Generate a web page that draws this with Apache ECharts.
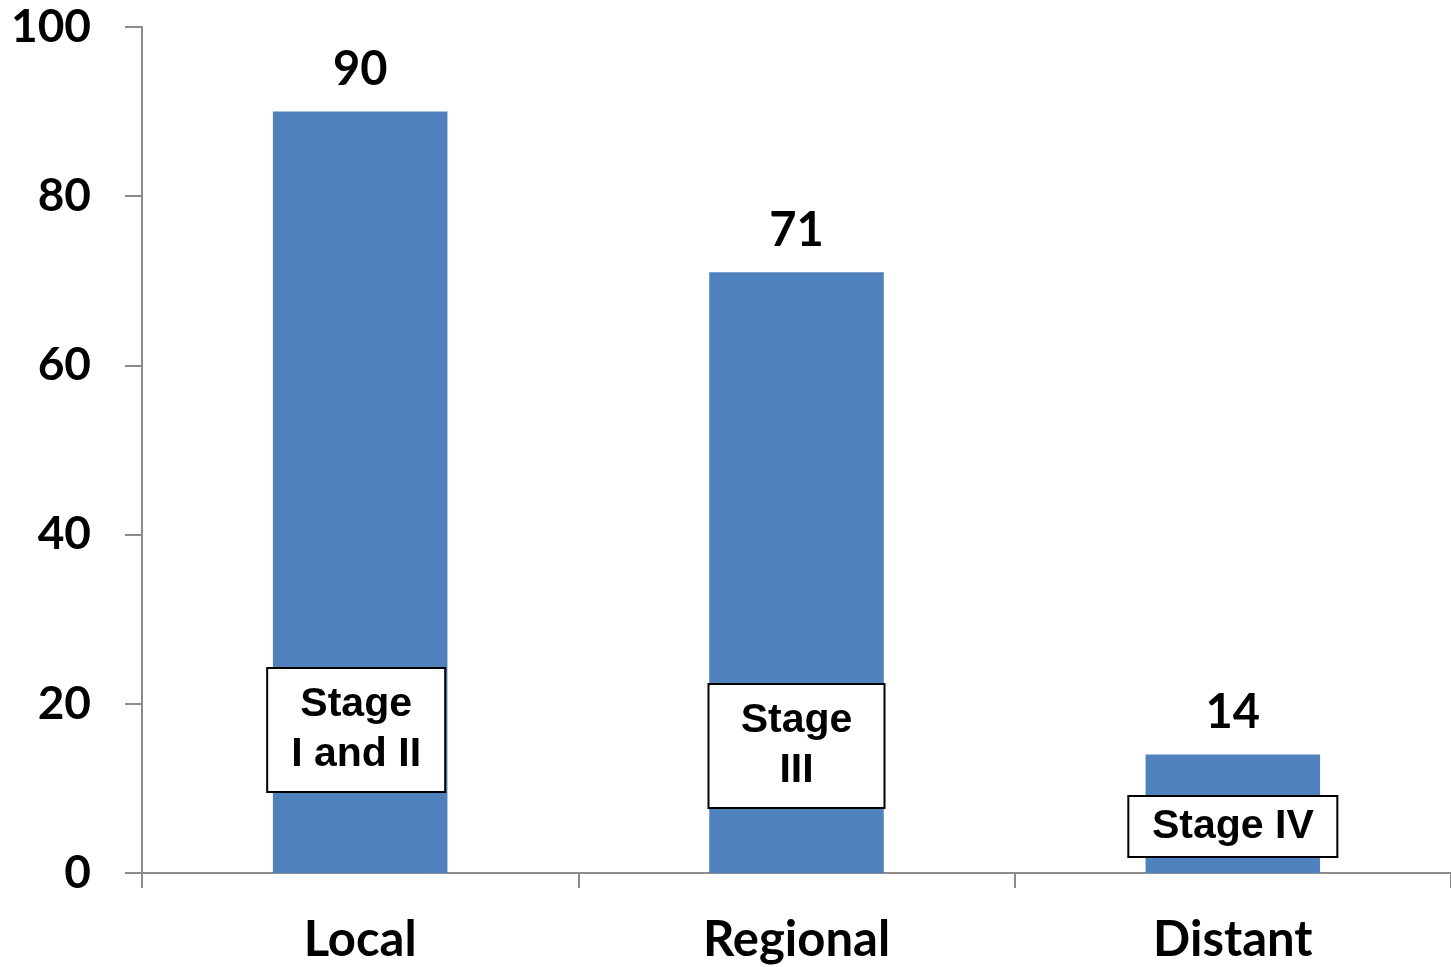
<!DOCTYPE html>
<html>
<head>
<meta charset="utf-8">
<script src="https://cdn.jsdelivr.net/npm/echarts@6/dist/echarts.min.js"></script>
<style>
  html, body { margin: 0; padding: 0; background: #fff; }
  #chart { width: 1451px; height: 967px; }
</style>
</head>
<body>
<div id="chart"></div>
<script>
// Survival by stage at diagnosis
const categories = ['Local', 'Regional', 'Distant'];
const values = [90, 71, 14];
const stageNames = ['Stage\nI and II', 'Stage\nIII', 'Stage IV'];
// height on the value axis where each stage tag is centred
const stageTagAt = [16.9, 15.0, 5.5];
const yTicks = { min: 0, max: 100, interval: 20 };

const axisGray = '#8c8c8c';
const axisFont = 'Lato, "Open Sans", sans-serif';

const tagStyles = [
  { width: 136, padding: [14, 20, 8, 20], offset: [-4, 0] },
  { width: 134, padding: [14, 20, 8, 20], offset: [0, 0] },
  { width: 167, padding: [7, 20, 2, 20], offset: [0, 0] }
];

const chart = echarts.init(document.getElementById('chart'));
chart.setOption({
  animation: false,
  grid: { left: 142, right: 0, top: 27, bottom: 94, containLabel: false },
  xAxis: {
    type: 'category',
    data: categories,
    axisLine: { lineStyle: { color: axisGray, width: 2 } },
    axisTick: { show: true, length: 15, lineStyle: { color: axisGray, width: 2 } },
    axisLabel: {
      margin: 43, color: '#000', fontFamily: axisFont, fontWeight: 'bold', fontSize: 49
    }
  },
  yAxis: {
    type: 'value',
    min: yTicks.min, max: yTicks.max, interval: yTicks.interval,
    splitLine: { show: false },
    axisLine: { show: true, lineStyle: { color: axisGray, width: 2 } },
    axisTick: { show: true, length: 17, lineStyle: { color: axisGray, width: 2 } },
    axisLabel: {
      margin: 51, color: '#000', fontFamily: axisFont, fontWeight: 'bold', fontSize: 46
    }
  },
  series: [
    {
      type: 'bar',
      data: values,
      barWidth: '40%',
      itemStyle: { color: '#4f81bd' },
      label: {
        show: true, position: 'top', distance: 18,
        color: '#000', fontFamily: axisFont, fontWeight: 'bold', fontSize: 47
      },
      z: 2
    },
    {
      type: 'scatter',
      symbolSize: 0,
      silent: true,
      z: 5,
      itemStyle: { opacity: 1 },
      data: stageTagAt.map((v, i) => ({
        value: [categories[i], v],
        label: {
          formatter: stageNames[i],
          width: tagStyles[i].width,
          padding: tagStyles[i].padding,
          offset: tagStyles[i].offset
        }
      })),
      label: {
        show: true,
        position: 'inside',
        align: 'center',
        verticalAlign: 'middle',
        opacity: 1,
        color: '#000',
        fontFamily: '"Liberation Sans", Arial, sans-serif',
        fontWeight: 'bold',
        fontSize: 41,
        lineHeight: 50,
        backgroundColor: '#fff',
        borderColor: '#000',
        borderWidth: 2
      }
    }
  ]
});
</script>
</body>
</html>
